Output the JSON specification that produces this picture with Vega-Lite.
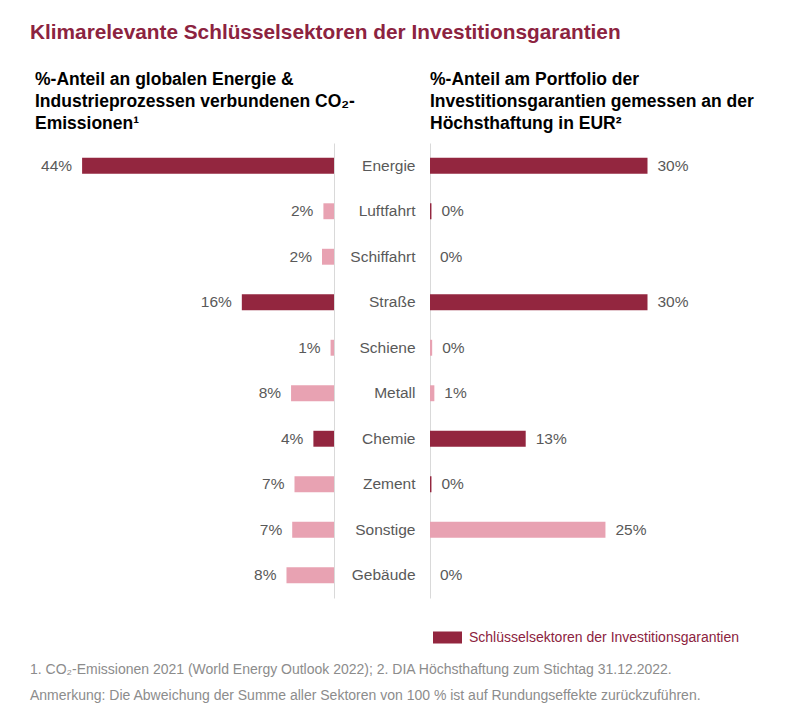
{
  "$schema": "https://vega.github.io/schema/vega-lite/v6.json",
  "padding": {"left": 30, "top": 21, "right": 20, "bottom": 10},
  "autosize": {"type": "pad"},
  "background": "white",
  "config": {
    "view": {"stroke": null},
    "font": "Liberation Sans"
  },
  "title": {
    "text": "Klimarelevante Schlüsselsektoren der Investitionsgarantien",
    "anchor": "start",
    "fontSize": 20.8,
    "fontWeight": "bold",
    "color": "#8C2340",
    "font": "Liberation Sans",
    "offset": 27
  },
  "data": {
    "values": [
      {"sektor": "Energie", "co2": 44, "co2_label": "44%", "portfolio": 30, "portfolio_label": "30%", "gl": "Schlüsselsektoren der Investitionsgarantien", "gr": "Schlüsselsektoren der Investitionsgarantien"},
      {"sektor": "Luftfahrt", "co2": 1.85, "co2_label": "2%", "portfolio": 0.2, "portfolio_label": "0%", "gl": "Weitere Sektoren", "gr": "Schlüsselsektoren der Investitionsgarantien"},
      {"sektor": "Schiffahrt", "co2": 2.1, "co2_label": "2%", "portfolio": 0, "portfolio_label": "0%", "gl": "Weitere Sektoren", "gr": "Weitere Sektoren"},
      {"sektor": "Straße", "co2": 16.1, "co2_label": "16%", "portfolio": 30, "portfolio_label": "30%", "gl": "Schlüsselsektoren der Investitionsgarantien", "gr": "Schlüsselsektoren der Investitionsgarantien"},
      {"sektor": "Schiene", "co2": 0.6, "co2_label": "1%", "portfolio": 0.3, "portfolio_label": "0%", "gl": "Weitere Sektoren", "gr": "Weitere Sektoren"},
      {"sektor": "Metall", "co2": 7.5, "co2_label": "8%", "portfolio": 0.6, "portfolio_label": "1%", "gl": "Weitere Sektoren", "gr": "Weitere Sektoren"},
      {"sektor": "Chemie", "co2": 3.6, "co2_label": "4%", "portfolio": 13.2, "portfolio_label": "13%", "gl": "Schlüsselsektoren der Investitionsgarantien", "gr": "Schlüsselsektoren der Investitionsgarantien"},
      {"sektor": "Zement", "co2": 6.9, "co2_label": "7%", "portfolio": 0.2, "portfolio_label": "0%", "gl": "Weitere Sektoren", "gr": "Schlüsselsektoren der Investitionsgarantien"},
      {"sektor": "Sonstige", "co2": 7.3, "co2_label": "7%", "portfolio": 24.2, "portfolio_label": "25%", "gl": "Weitere Sektoren", "gr": "Weitere Sektoren"},
      {"sektor": "Gebäude", "co2": 8.3, "co2_label": "8%", "portfolio": 0, "portfolio_label": "0%", "gl": "Weitere Sektoren", "gr": "Weitere Sektoren"}
    ]
  },
  "vconcat": [
    {
      "title": {
        "text": ["1. CO₂-Emissionen 2021 (World Energy Outlook 2022); 2. DIA Höchsthaftung zum Stichtag 31.12.2022.", "Anmerkung: Die Abweichung der Summe aller Sektoren von 100 % ist auf Rundungseffekte zurückzuführen."],
        "orient": "bottom",
        "anchor": "start",
        "fontSize": 14,
        "fontWeight": "normal",
        "color": "#8C8C8C",
        "lineHeight": 26,
        "offset": 18
      },
      "bounds": "flush",
      "spacing": 96,
      "resolve": {"scale": {"color": "independent"}, "legend": {"color": "independent"}},
      "hconcat": [
        {
          "width": 304,
          "height": 455,
          "title": {
            "text": ["%-Anteil an globalen Energie &", "Industrieprozessen verbundenen CO₂-", "Emissionen¹"],
            "anchor": "start",
            "frame": "group",
            "dx": 5,
            "fontSize": 17.5,
            "fontWeight": "bold",
            "color": "#000000",
            "lineHeight": 22,
            "offset": 11
          },
          "encoding": {
            "y": {
              "field": "sektor",
              "type": "nominal",
              "sort": null,
              "scale": {"paddingInner": 0.65, "paddingOuter": 0.325},
              "axis": {"orient": "right", "labels": false, "ticks": false, "title": null, "domainColor": "#D9D9D9", "domainWidth": 1}
            }
          },
          "layer": [
            {
              "mark": {"type": "bar"},
              "encoding": {
                "x": {"field": "co2", "type": "quantitative", "scale": {"domain": [0, 53.1], "nice": false, "reverse": true}, "axis": null},
                "color": {
                  "field": "gl",
                  "type": "nominal",
                  "scale": {"domain": ["Schlüsselsektoren der Investitionsgarantien", "Weitere Sektoren"], "range": ["#93263F", "#E8A2B2"]},
                  "legend": null
                }
              }
            },
            {
              "mark": {"type": "text", "align": "right", "baseline": "middle", "dx": -10, "fontSize": 15.5, "color": "#595959"},
              "encoding": {
                "x": {"field": "co2", "type": "quantitative"},
                "text": {"field": "co2_label"}
              }
            }
          ]
        },
        {
          "width": 290,
          "height": 455,
          "title": {
            "text": ["%-Anteil am Portfolio der", "Investitionsgarantien gemessen an der", "Höchsthaftung in EUR²"],
            "anchor": "start",
            "frame": "group",
            "dx": 0,
            "fontSize": 17.5,
            "fontWeight": "bold",
            "color": "#000000",
            "lineHeight": 22,
            "offset": 11
          },
          "encoding": {
            "y": {
              "field": "sektor",
              "type": "nominal",
              "sort": null,
              "scale": {"paddingInner": 0.65, "paddingOuter": 0.325},
              "axis": {"orient": "left", "ticks": false, "tickSize": 0, "labelPadding": 15, "labelFontSize": 15.5, "labelColor": "#595959", "title": null, "domainColor": "#D9D9D9", "domainWidth": 1}
            }
          },
          "layer": [
            {
              "mark": {"type": "bar"},
              "encoding": {
                "x": {"field": "portfolio", "type": "quantitative", "scale": {"domain": [0, 40], "nice": false}, "axis": null},
                "color": {
                  "field": "gr",
                  "type": "nominal",
                  "scale": {"domain": ["Schlüsselsektoren der Investitionsgarantien", "Weitere Sektoren"], "range": ["#93263F", "#E8A2B2"]},
                  "legend": {
                    "orient": "none",
                    "legendX": 3,
                    "legendY": 480,
                    "title": null,
                    "values": ["Schlüsselsektoren der Investitionsgarantien"],
                    "symbolType": "M-1,-0.414H1V0.414H-1Z",
                    "symbolSize": 841,
                    "symbolStrokeWidth": 0,
                    "labelFontSize": 14,
                    "labelLimit": 500,
                    "labelColor": "#8C2340",
                    "labelOffset": 7,
                    "padding": 0
                  }
                }
              }
            },
            {
              "mark": {"type": "text", "align": "left", "baseline": "middle", "dx": 10, "fontSize": 15.5, "color": "#595959"},
              "encoding": {
                "x": {"field": "portfolio", "type": "quantitative"},
                "text": {"field": "portfolio_label"}
              }
            }
          ]
        }
      ]
    }
  ]
}
